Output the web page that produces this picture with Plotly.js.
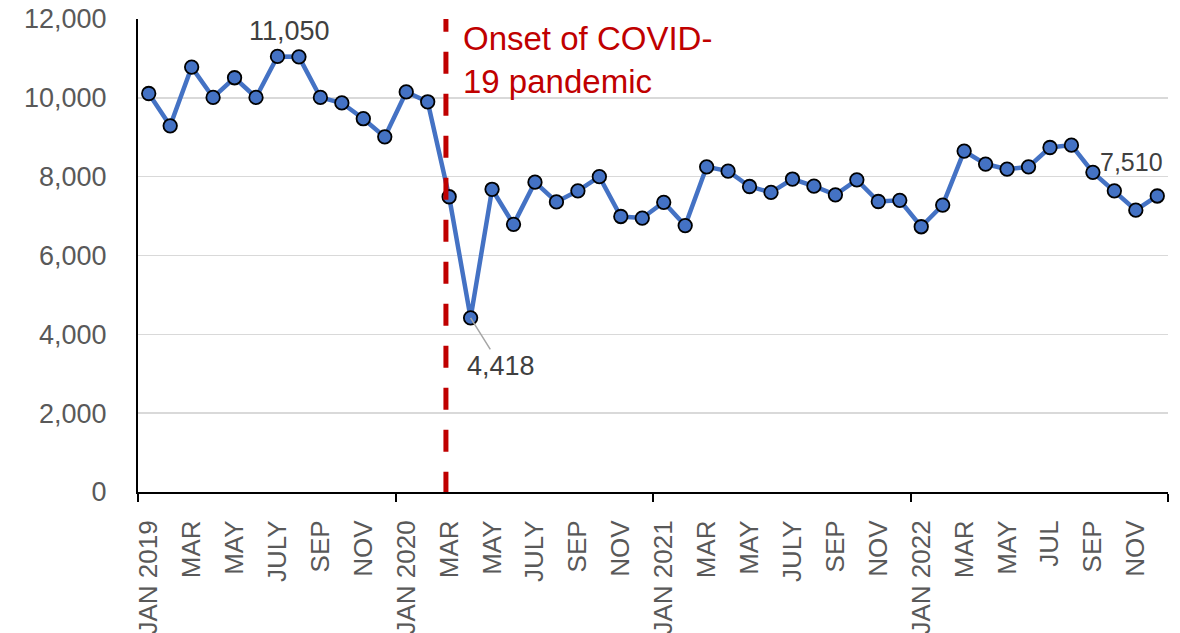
<!DOCTYPE html>
<html><head><meta charset="utf-8">
<script src="https://cdn.plot.ly/plotly-3.0.1.min.js"></script>
<style>html,body{margin:0;padding:0;background:#fff;overflow:hidden}</style>
</head><body><div id="chart" style="width:1180px;height:633px"></div>
<script>
const months = [
 "Jan 2019","Feb 2019","Mar 2019","Apr 2019","May 2019","Jun 2019","Jul 2019","Aug 2019","Sep 2019","Oct 2019","Nov 2019","Dec 2019",
 "Jan 2020","Feb 2020","Mar 2020","Apr 2020","May 2020","Jun 2020","Jul 2020","Aug 2020","Sep 2020","Oct 2020","Nov 2020","Dec 2020",
 "Jan 2021","Feb 2021","Mar 2021","Apr 2021","May 2021","Jun 2021","Jul 2021","Aug 2021","Sep 2021","Oct 2021","Nov 2021","Dec 2021",
 "Jan 2022","Feb 2022","Mar 2022","Apr 2022","May 2022","Jun 2022","Jul 2022","Aug 2022","Sep 2022","Oct 2022","Nov 2022","Dec 2022"
];
const values = [
 10110, 9290, 10780, 10010, 10510, 10010, 11050, 11040, 10010, 9870, 9470, 9010,
 10150, 9900, 7490, 4418, 7680, 6790, 7860, 7360, 7640, 8000, 6990, 6950,
 7350, 6760, 8250, 8140, 7750, 7600, 7940, 7760, 7540, 7920, 7370, 7400,
 6730, 7280, 8650, 8320, 8190, 8250, 8740, 8800, 8110, 7640, 7150, 7510
];
const tickLabels = ["JAN 2019","MAR","MAY","JULY","SEP","NOV","JAN 2020","MAR","MAY","JULY","SEP","NOV",
 "JAN 2021","MAR","MAY","JULY","SEP","NOV","JAN 2022","MAR","MAY","JUL","SEP","NOV"];
const labelledPoints = [6, 15, 47]; // indices of labelled values (max, min, last)
const onsetIndex = 14; // Mar 2020

const xIdx = months.map((m, i) => i);
const tickVals = tickLabels.map((t, i) => i * 2);
const yearBounds = [-0.5, 11.5, 23.5, 35.5, 47.5];
const fmt = v => v.toLocaleString('en-US');
const FONT = "Liberation Sans, Arial, sans-serif";

const trace = {
  x: xIdx, y: values, type: 'scatter', mode: 'lines+markers',
  line: {color: '#4472C4', width: 4.5},
  marker: {size: 13.5, color: '#4472C4', line: {color: '#000', width: 1.8}},
  hoverinfo: 'skip'
};

const lineX = onsetIndex - 0.15;
const layout = {
  width: 1180, height: 633,
  margin: {l: 138, r: 12, t: 19, b: 141},
  paper_bgcolor: '#fff', plot_bgcolor: '#fff',
  showlegend: false,
  font: {family: FONT},
  xaxis: {
    range: [-0.5, 47.5], showgrid: false, zeroline: false,
    showline: true, linecolor: '#000', linewidth: 2,
    tickmode: 'array', tickvals: tickVals, ticktext: tickLabels,
    tickangle: -90, ticks: '', ticklabelstandoff: 16,
    tickfont: {size: 26, color: '#595959', family: FONT},
    minor: {tickmode: 'array', tickvals: yearBounds, ticks: 'outside', ticklen: 8, tickcolor: '#000', tickwidth: 2, showgrid: false}
  },
  yaxis: {
    range: [0, 12000], dtick: 2000, tickformat: ',',
    showgrid: true, gridcolor: '#d9d9d9', gridwidth: 1.5,
    zeroline: false, showline: true, linecolor: '#000', linewidth: 2,
    ticks: '', ticklabelstandoff: 24,
    tickfont: {size: 27, color: '#595959', family: FONT}
  },
  shapes: [{
    type: 'line', xref: 'x', yref: 'y', x0: lineX, x1: lineX, y0: 12236, y1: 0,
    line: {color: '#C00000', width: 5, dash: '22px,20px'}, layer: 'above'
  }],
  annotations: [
    {x: labelledPoints[0], y: values[labelledPoints[0]], text: fmt(values[labelledPoints[0]]), showarrow: false,
     xshift: 12, yshift: 25, font: {size: 27, color: '#404040', family: FONT}},
    {x: labelledPoints[1], y: values[labelledPoints[1]], text: fmt(values[labelledPoints[1]]), showarrow: true,
     arrowhead: 0, arrowcolor: '#a6a6a6', arrowwidth: 1.5, ax: 30, ay: 48, standoff: 0,
     font: {size: 27, color: '#404040', family: FONT}},
    {x: labelledPoints[2], y: values[labelledPoints[2]], text: fmt(values[labelledPoints[2]]), showarrow: false,
     xshift: -26, yshift: 34, font: {size: 25, color: '#404040', family: FONT}},
    {x: lineX, xref: 'x', y: 1, yref: 'paper', xanchor: 'left', yanchor: 'top', align: 'left',
     text: 'Onset of COVID-<br>19 pandemic', showarrow: false, xshift: 15, yshift: 1,
     font: {size: 33, color: '#C00000', family: FONT}}
  ]
};

Plotly.newPlot('chart', [trace], layout, {displayModeBar: false, staticPlot: true});
</script>
</body></html>
